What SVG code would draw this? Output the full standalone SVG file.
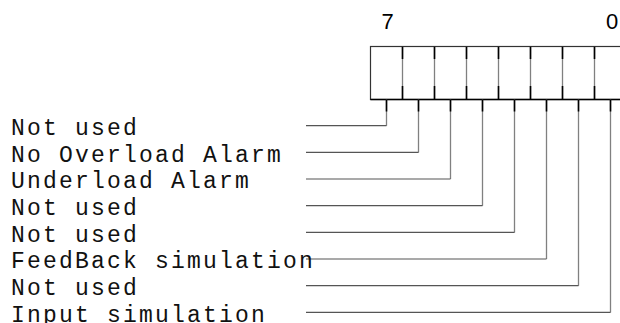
<svg xmlns="http://www.w3.org/2000/svg" width="620" height="323" viewBox="0 0 620 323">
<style>
.lbl{font-family:"Liberation Mono","Courier New",monospace;font-size:23px;letter-spacing:2.2px;fill:#111}
.num{font-family:"Liberation Sans",Arial,sans-serif;font-size:22px;fill:#000;text-anchor:middle}
.box{fill:#fff;stroke:#333;stroke-width:1.2}
.g{stroke:#808080;stroke-width:1.3;fill:none}
.k{stroke:#000;stroke-width:1.6;fill:none}
.h{stroke:#555;stroke-width:1.2;fill:none}
</style>
<rect width="620" height="323" fill="#fff"/>
<g id="register">
<rect class="box" x="370.5" y="46.5" width="256" height="53"/>
<path class="g" d="M402.5 46.5V99.5M434.5 46.5V99.5M466.5 46.5V99.5M498.5 46.5V99.5M530.5 46.5V99.5M562.5 46.5V99.5M594.5 46.5V99.5"/>
<path class="k" d="M402.5 46.5V59M434.5 46.5V59M466.5 46.5V59M498.5 46.5V59M530.5 46.5V59M562.5 46.5V59M594.5 46.5V59M402.5 86V99.5M434.5 86V99.5M466.5 86V99.5M498.5 86V99.5M530.5 86V99.5M562.5 86V99.5M594.5 86V99.5"/>
<path class="k" d="M370.5 99.5H626.5"/>
<text class="num" x="387.5" y="28.5">7</text>
<text class="num" x="612" y="28.5">0</text>
</g>
<g id="connectors">
<path class="g" d="M386.5 99.5V125.7M418.5 99.5V152.4M450.5 99.5V179M482.5 99.5V205.7M514.5 99.5V232.4M546.5 99.5V259M578.5 99.5V285.7M610.5 99.5V312.4"/>
<path class="k" d="M386.5 99.5V111.5M418.5 99.5V111.5M450.5 99.5V111.5M482.5 99.5V111.5M514.5 99.5V111.5M546.5 99.5V111.5M578.5 99.5V111.5M610.5 99.5V111.5"/>
<path class="h" d="M306 125.7H386.5M306 152.4H418.5M306 179H450.5M306 205.7H482.5M306 232.4H514.5M306 259H546.5M306 285.7H578.5M306 312.4H610.5"/>
</g>
<g id="bit7"><text class="lbl" x="11" y="135">Not used</text></g>
<g id="bit6"><text class="lbl" x="11" y="161.7">No Overload Alarm</text></g>
<g id="bit5"><text class="lbl" x="11" y="188.3">Underload Alarm</text></g>
<g id="bit4"><text class="lbl" x="11" y="215">Not used</text></g>
<g id="bit3"><text class="lbl" x="11" y="241.7">Not used</text></g>
<g id="bit2"><text class="lbl" x="11" y="268.3">FeedBack simulation</text></g>
<g id="bit1"><text class="lbl" x="11" y="295">Not used</text></g>
<g id="bit0"><text class="lbl" x="11" y="321.7">Input simulation</text></g>
</svg>
